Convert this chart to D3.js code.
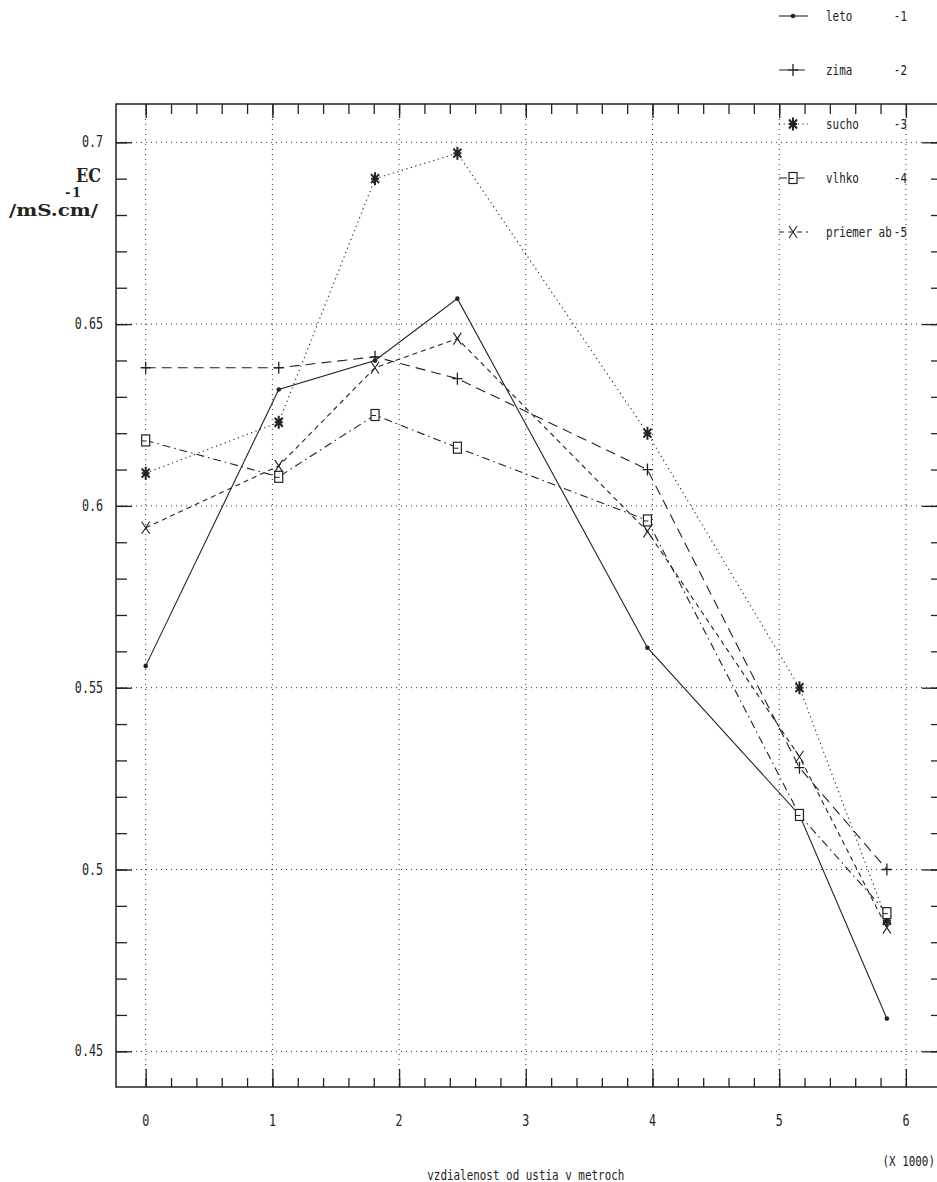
<!DOCTYPE html>
<html>
<head>
<meta charset="utf-8">
<script src="https://d3js.org/d3.v7.min.js"></script>
<style>
body { margin: 0; background: #fff; }
text { font-family: "DejaVu Sans Mono", monospace; fill: #222; }
</style>
</head>
<body>
<div id="chart-area"></div>
<script>
/*
*    EC pozdlz toku
*/

// Data (x in thousands of metres)
var distances = [0, 1.05, 1.81, 2.46, 3.96, 5.16, 5.85]
var leto    = [0.556, 0.632, 0.640, 0.657, 0.561, 0.515, 0.459]
var zima    = [0.638, 0.638, 0.641, 0.635, 0.610, 0.528, 0.500]
var sucho   = [0.609, 0.623, 0.690, 0.697, 0.620, 0.550, 0.486]
var vlhko   = [0.618, 0.608, 0.625, 0.616, 0.596, 0.515, 0.488]
var priemer = [0.594, 0.611, 0.638, 0.646, 0.593, 0.531, 0.484]

var seriesNames = ["leto", "zima", "sucho", "vlhko", "priemer ab"]
var seriesNums = ["-1", "-2", "-3", "-4", "-5"]

var xTicks = [0, 1, 2, 3, 4, 5, 6]
var xTickLabels = ["0", "1", "2", "3", "4", "5", "6"]
var yTicks = [0.45, 0.5, 0.55, 0.6, 0.65, 0.7]
var yTickLabels = ["0.45", "0.5", "0.55", "0.6", "0.65", "0.7"]

// styles per series
var dashes = ["none", "10,6", "1.2,3.5", "8,4,1.5,4", "5,4"]
var markers = ["dot", "plus", "star", "square", "cross"]

var width = 937
var height = 1182
var frame = {left: 116, top: 104, right: 939, bottom: 1087}
var ink = "#222"
var squeeze = 0.78

var svg = d3.select("#chart-area").append("svg")
.attr("width", width)
.attr("height", height)

var x = d3.scaleLinear()
.domain([0, 6])
.range([145.7, 905.9])

var y = d3.scaleLinear()
.domain([0.45, 0.7])
.range([1051.3, 142.3])

function addText(parent, px, py, str, anchor, size) {
	return parent.append("text")
	.attr("transform", "translate(" + px + "," + py + ") scale(" + squeeze + ",1)")
	.attr("text-anchor", anchor)
	.style("font-size", size + "px")
	.text(str)
}

function drawMarker(sel, type) {
	if (type == "dot") {
		sel.append("circle").attr("r", 2.3).attr("fill", ink)
	} else if (type == "plus") {
		sel.append("path").attr("d", "M-5,0H5M0,-6V6")
		.attr("stroke", ink).attr("stroke-width", 1.3)
	} else if (type == "star") {
		sel.append("path").attr("d", "M0,-6.5V6.5M-4,-4.5L4,4.5M4,-4.5L-4,4.5M-4,0H4")
		.attr("stroke", ink).attr("stroke-width", 2)
	} else if (type == "square") {
		sel.append("rect").attr("x", -4).attr("y", -5.5).attr("width", 8).attr("height", 11)
		.attr("fill", "#fff").attr("stroke", ink).attr("stroke-width", 1.2)
		sel.append("path").attr("d", "M-4,0.5H1").attr("stroke", ink).attr("stroke-width", 1)
	} else if (type == "cross") {
		sel.append("path").attr("d", "M-4,-6L4,6M4,-6L-4,6")
		.attr("stroke", ink).attr("stroke-width", 1.1)
	}
}

// Grid

var grid = svg.append("g")
.attr("stroke", "#333")
.attr("stroke-width", 1)
.attr("stroke-dasharray", "1,4")

grid.selectAll(".hgrid")
.data(yTicks)
.enter().append("line")
.attr("x1", frame.left)
.attr("x2", frame.right)
.attr("y1", d => y(d))
.attr("y2", d => y(d))

grid.selectAll(".vgrid")
.data(xTicks)
.enter().append("line")
.attr("x1", d => x(d))
.attr("x2", d => x(d))
.attr("y1", frame.top)
.attr("y2", frame.bottom)

// Frame

svg.append("rect")
.attr("x", frame.left)
.attr("y", frame.top)
.attr("width", frame.right - frame.left)
.attr("height", frame.bottom - frame.top)
.attr("fill", "none")
.attr("stroke", ink)
.attr("stroke-width", 1.5)

// Ticks (inward)

var minorY = d3.range(45, 71).map(d => d / 100)
var minorX = d3.range(0, 31).map(d => d / 5)

function tickGroup(axis, tx, ty) {
	var g = svg.append("g")
	.attr("transform", "translate(" + tx + "," + ty + ")")
	.style("color", ink)
	.call(axis)
	g.select(".domain").remove()
	g.selectAll("text").remove()
	g.selectAll("line").attr("stroke-width", 1.3)
}

tickGroup(d3.axisRight(y).tickValues(minorY).tickSize(11), frame.left, 0)
tickGroup(d3.axisRight(y).tickValues(yTicks).tickSize(16), frame.left, 0)
tickGroup(d3.axisLeft(y).tickValues(minorY).tickSize(8), frame.right, 0)
tickGroup(d3.axisLeft(y).tickValues(yTicks).tickSize(17), frame.right, 0)
tickGroup(d3.axisTop(x).tickValues(minorX).tickSize(9), 0, frame.bottom)
tickGroup(d3.axisTop(x).tickValues(xTicks).tickSize(18), 0, frame.bottom)
tickGroup(d3.axisBottom(x).tickValues(minorX).tickSize(10), 0, frame.top)
tickGroup(d3.axisBottom(x).tickValues(xTicks).tickSize(14), 0, frame.top)

// Tick labels

yTicks.forEach((t, i) => {
	addText(svg, 103, y(t) + 5, yTickLabels[i], "end", 15)
})

xTicks.forEach((t, i) => {
	addText(svg, x(t), 1126, xTickLabels[i], "middle", 15)
})

addText(svg, 935, 1166, "(X 1000)", "end", 14)
addText(svg, x(3), 1180, "vzdialenost od ustia v metroch", "middle", 14)

// Y label (serif, like the typewriter original)

var yLabel = svg.append("g")
.style("font-weight", "bold")

yLabel.append("text").attr("x", 76).attr("y", 182)
.style("font-family", "'DejaVu Serif', serif").style("font-size", "18px")
.attr("textLength", 25).attr("lengthAdjust", "spacingAndGlyphs")
.text("EC")
yLabel.append("text").attr("x", 9).attr("y", 216)
.style("font-family", "'DejaVu Serif', serif").style("font-size", "17px")
.attr("textLength", 89).attr("lengthAdjust", "spacingAndGlyphs")
.text("/mS.cm/")
yLabel.append("text").attr("x", 65).attr("y", 197)
.style("font-family", "'DejaVu Serif', serif").style("font-size", "13px")
.attr("textLength", 16).attr("lengthAdjust", "spacing")
.text("-1")

// Series

var allSeries = [leto, zima, sucho, vlhko, priemer]

var line = d3.line()
.x((d, i) => x(distances[i]))
.y(d => y(d))

allSeries.forEach((values, s) => {
	svg.append("path")
	.attr("d", line(values))
	.attr("fill", "none")
	.attr("stroke", ink)
	.attr("stroke-width", 1.1)
	.attr("stroke-dasharray", dashes[s])
})

allSeries.forEach((values, s) => {
	values.forEach((v, i) => {
		var m = svg.append("g")
		.attr("transform", "translate(" + x(distances[i]) + "," + y(v) + ")")
		drawMarker(m, markers[s])
	})
})

// Legend

seriesNames.forEach((name, s) => {
	var ly = 16 + s * 54
	var row = svg.append("g")

	row.append("line")
	.attr("x1", 779)
	.attr("x2", 808)
	.attr("y1", ly)
	.attr("y2", ly)
	.attr("stroke", ink)
	.attr("stroke-width", 1.1)
	.attr("stroke-dasharray", dashes[s])

	var m = row.append("g").attr("transform", "translate(793," + ly + ")")
	drawMarker(m, markers[s])

	addText(row, 826, ly + 5, name, "start", 14)
	addText(row, 907, ly + 5, seriesNums[s], "end", 14)
})
</script>
</body>
</html>
